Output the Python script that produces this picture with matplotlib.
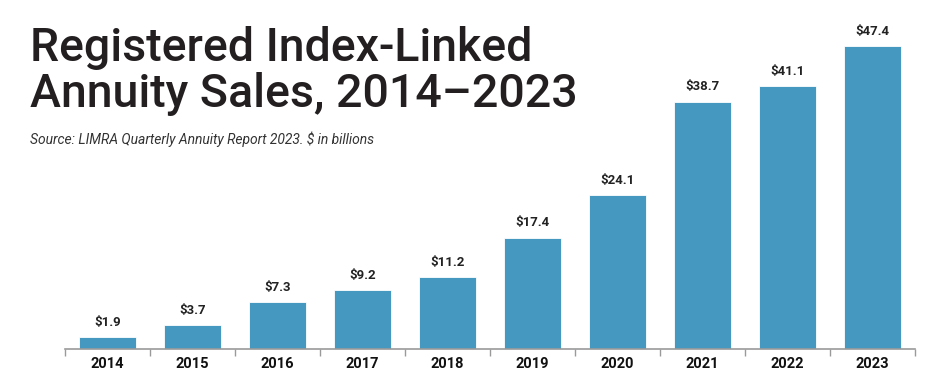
import matplotlib.pyplot as plt
import numpy as np

years = ["2014", "2015", "2016", "2017", "2018", "2019", "2020", "2021", "2022", "2023"]
sales = [1.9, 3.7, 7.3, 9.2, 11.2, 17.4, 24.1, 38.7, 41.1, 47.4]
labels = ["$1.9", "$3.7", "$7.3", "$9.2", "$11.2", "$17.4", "$24.1", "$38.7", "$41.1", "$47.4"]

plt.rcParams['font.family'] = ['Roboto', 'DejaVu Sans']

fig = plt.figure(figsize=(9.36, 3.78), dpi=100)
ax = fig.add_axes([65 / 936, 29 / 378, 850 / 936, 349 / 378])

x = np.arange(len(years))
ax.bar(x, sales, width=0.66, color="#4599c1", edgecolor="white", linewidth=0.6, zorder=2)

for xi, v, lab in zip(x, sales, labels):
    ax.annotate(lab, (xi, v), xytext=(0, 6), textcoords="offset points",
                ha="center", va="bottom", fontsize=9.5, fontweight="bold", color="#222222")

ax.set_xlim(-0.5, len(years) - 0.5)
ax.set_ylim(0, 54.6)
ax.set_xticks(x)
ax.set_xticklabels(years, fontsize=10.5, fontweight="bold", color="#111111")
ax.tick_params(axis="x", which="major", length=0, pad=6)
ax.set_xticks(np.arange(len(years) + 1) - 0.5, minor=True)
ax.tick_params(axis="x", which="minor", length=5, color="#9a9a9a", width=1)
ax.set_yticks([])
for s in ["top", "right", "left"]:
    ax.spines[s].set_visible(False)
ax.spines["bottom"].set_color("#9a9a9a")
ax.spines["bottom"].set_linewidth(1.2)
ax.patch.set_alpha(0)

fig.text(30 / 936, 1 - 61 / 378, "Registered Index-Linked", fontsize=33.5,
         fontweight="medium", color="#231f20", ha="left", va="baseline")
fig.text(30 / 936, 1 - 107 / 378, "Annuity Sales, 2014\u20132023", fontsize=33.5,
         fontweight="medium", color="#231f20", ha="left", va="baseline")
fig.text(30 / 936, 1 - 144 / 378, "Source: LIMRA Quarterly Annuity Report 2023. $ in billions",
         fontsize=10, style="italic", color="#333333", ha="left", va="baseline")

fig.savefig("out.png", dpi=100)
